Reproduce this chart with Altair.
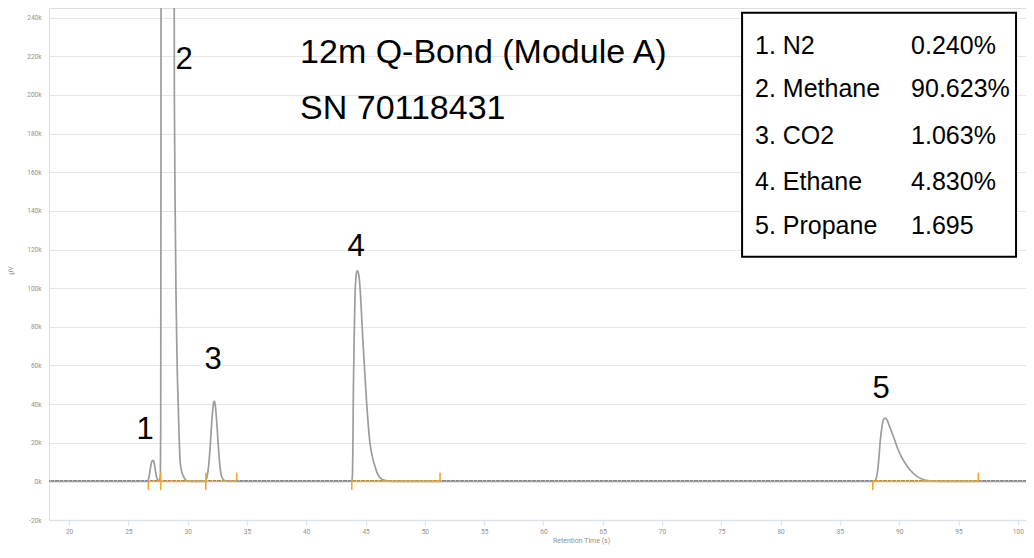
import altair as alt
import pandas as pd

# ---- chromatogram trace (retention time in s, signal in µV) ----
time_s = [
    18.3, 26.55, 26.64, 26.75, 26.85, 26.95, 27.05, 27.1, 27.18, 27.28, 27.38, 27.48, 27.59,
    27.7, 27.73, 27.75, 27.77, 27.85, 28.1, 28.35, 28.6, 28.8, 28.86, 28.88, 28.95, 29.02,
    29.1, 29.22, 29.36, 29.5, 29.64, 29.92, 30.3,
    31.45, 31.6, 31.75, 31.9, 32.05, 32.18, 32.25, 32.32, 32.45, 32.6, 32.75, 32.9, 33.1, 33.4,
    43.85, 43.9, 43.93, 43.98, 44.06, 44.12, 44.2, 44.28, 44.34, 44.45, 44.55, 44.65, 44.75,
    44.9, 45.1, 45.38, 45.6, 45.8, 46.0, 46.22, 46.6, 47.2,
    87.9, 88.0, 88.15, 88.3, 88.4, 88.55, 88.7, 88.8, 88.95, 89.15, 89.4, 89.64, 89.9, 90.2,
    90.49, 90.9, 91.47, 92.0, 92.6, 93.5, 100.7,
]
signal_uv = [
    0, 0, 200, 2500, 6500, 9800, 10800, 10900, 9500, 5500, 2200, 700, 300,
    3000, 30000, 150000, 400000, 900000, 1400000, 1500000, 1300000, 800000, 300000, 200000, 140000, 97000,
    65000, 36500, 11000, 5000, 2700, 300, 0,
    0, 1500, 7000, 18000, 32000, 40500, 41600, 40000, 31000, 17000, 6500, 2000, 500, 0,
    0, 4000, 16000, 50000, 80000, 98000, 106000, 108800, 109000, 106000, 99000, 88000, 76000,
    60000, 40000, 19600, 12000, 7800, 4000, 1900, 500, 0,
    0, 500, 4000, 13000, 21000, 28500, 32300, 32800, 32000, 29000, 25000, 21000, 16500, 12500,
    9500, 6000, 2700, 1000, 300, 0, 0,
]

# ---- integration segments (peak start / end, s) ----
seg_start = [26.69, 27.73, 31.53, 43.84, 87.77]
seg_end = [27.73, 31.53, 34.14, 51.28, 96.67]

# ---- peak numbers ----
peak_ids = ["1", "2", "3", "4", "5"]
peak_label_t = [26.41, 29.70, 32.14, 44.2, 88.47]
peak_label_v = [26400, 218300, 62900, 121300, 47700]

# ---- title annotation ----
title_lines = ["12m Q-Bond (Module A)", "SN 70118431"]
title_t = [39.48, 39.48]
title_v = [221800, 192900]

# ---- composition box ----
comp_names = ["1. N2", "2. Methane", "3. CO2", "4. Ethane", "5. Propane"]
comp_values = ["0.240%", "90.623%", "1.063%", "4.830%", "1.695"]
comp_row_v = [225400, 203000, 178700, 154800, 132000]
comp_name_t = 77.84
comp_value_t = 91.0
box_t = [76.75, 99.85]
box_v = [116200, 242600]

x_ticks = list(range(20, 101, 5))
y_ticks = list(range(-20000, 240001, 20000))

trace = pd.DataFrame({"t": time_s, "v": signal_uv})
segs = pd.DataFrame({"s": seg_start, "e": seg_end, "zero": 0, "down": -4500, "up": 4500})
peaks = pd.DataFrame({"t": peak_label_t, "v": peak_label_v, "label": peak_ids})
titles = pd.DataFrame({"t": title_t, "v": title_v, "label": title_lines})
comp = pd.DataFrame({"v": comp_row_v, "name": comp_names, "val": comp_values,
                     "tn": comp_name_t, "tv": comp_value_t})
box = pd.DataFrame({"t1": [box_t[0]], "t2": [box_t[1]], "v1": [box_v[0]], "v2": [box_v[1]]})

xs = alt.Scale(domain=[18.31, 100.69], nice=False, zero=False)
ys = alt.Scale(domain=[-20000, 245000], nice=False, zero=False)

x_axis = alt.Axis(values=x_ticks, tickCount=30, title="Retention Time (s)", grid=False,
                  labelFontSize=6.5, labelColor="#8f8f8f", labelFont="Roboto",
                  labelPadding=3, tickColor="#dce3ee", tickSize=5, tickWidth=1.2,
                  domainColor="#dce3ee", domainWidth=1.6, labelOverlap=False,
                  titleFontSize=7, titleFont="Roboto", titleFontWeight="normal",
                  titleColor="#8f8f8f", titlePadding=2, titleX=532)
y_axis = alt.Axis(values=y_ticks, tickCount=30, title="µV", grid=True, gridColor="#e6e6e6",
                  gridWidth=1.2, labelExpr="datum.value/1000 + 'k'", labelFontSize=6.5,
                  labelColor="#8f8f8f", labelFont="Roboto", labelPadding=8,
                  labelOverlap=False, ticks=False, domain=False,
                  titleFontSize=7, titleFont="Roboto", titleFontWeight="normal",
                  titleColor="#8f8f8f", titleX=-36, titleY=262)

base_axes = alt.Chart(trace).mark_line(opacity=0).encode(
    x=alt.X("t:Q", scale=xs, axis=x_axis),
    y=alt.Y("v:Q", scale=ys, axis=y_axis),
)

baseline = alt.Chart(trace).mark_rule(color="#6f6f6f", strokeWidth=1.4, strokeDash=[3, 1.5]).encode(
    y=alt.datum(0, scale=ys)
)

line = alt.Chart(trace).mark_line(color="#9c9c9c", strokeWidth=1.7, clip=True,
                                  interpolate="monotone").encode(
    x=alt.X("t:Q", scale=xs),
    y=alt.Y("v:Q", scale=ys),
)

orange = "#f2a533"
seg_h = alt.Chart(segs).mark_rule(color=orange, strokeWidth=1.6).encode(
    x=alt.X("s:Q", scale=xs), x2="e:Q", y=alt.Y("zero:Q", scale=ys))
seg_down = alt.Chart(segs).mark_rule(color=orange, strokeWidth=1.6).encode(
    x=alt.X("s:Q", scale=xs), y=alt.Y("zero:Q", scale=ys), y2="down:Q")
seg_up = alt.Chart(segs).mark_rule(color=orange, strokeWidth=1.6).encode(
    x=alt.X("e:Q", scale=xs), y=alt.Y("zero:Q", scale=ys), y2="up:Q")

peak_text = alt.Chart(peaks).mark_text(font="Liberation Sans", fontSize=31, color="black",
                                       align="center", baseline="middle").encode(
    x=alt.X("t:Q", scale=xs), y=alt.Y("v:Q", scale=ys), text="label:N")

title_text = alt.Chart(titles).mark_text(font="Liberation Sans", fontSize=34, color="black",
                                         align="left", baseline="middle").encode(
    x=alt.X("t:Q", scale=xs), y=alt.Y("v:Q", scale=ys), text="label:N")

box_rect = alt.Chart(box).mark_rect(fill="white", stroke="black", strokeWidth=2).encode(
    x=alt.X("t1:Q", scale=xs), x2="t2:Q", y=alt.Y("v1:Q", scale=ys), y2="v2:Q")

names_text = alt.Chart(comp).mark_text(font="Liberation Sans", fontSize=25, color="black",
                                       align="left", baseline="middle").encode(
    x=alt.X("tn:Q", scale=xs), y=alt.Y("v:Q", scale=ys), text="name:N")
vals_text = alt.Chart(comp).mark_text(font="Liberation Sans", fontSize=25, color="black",
                                      align="left", baseline="middle").encode(
    x=alt.X("tv:Q", scale=xs), y=alt.Y("v:Q", scale=ys), text="val:N")

chart = alt.layer(
    base_axes, baseline, line, seg_h, seg_down, seg_up,
    peak_text, title_text, box_rect, names_text, vals_text,
).properties(
    width=977, height=512,
    autosize=alt.AutoSizeParams(type="none"),
    padding={"left": 41, "top": 0, "right": 0, "bottom": 26},
).configure_view(stroke=None).configure(background="white")

chart.save("out.html", embed_options={"renderer": "svg", "actions": False})
